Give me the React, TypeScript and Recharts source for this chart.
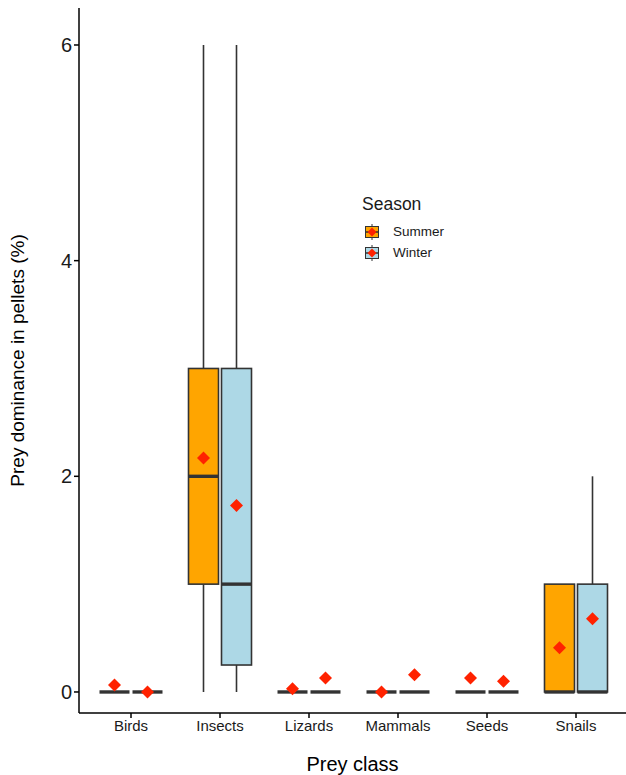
import { ComposedChart, Bar, XAxis, YAxis, Legend } from "recharts"

// prey classes on the x axis
const categories = ["Birds", "Insects", "Lizards", "Mammals", "Seeds", "Snails"]

// summer box stats
const summerMin = [0, 0, 0, 0, 0, 0]
const summerQ1 = [0, 1, 0, 0, 0, 0]
const summerMedian = [0, 2, 0, 0, 0, 0]
const summerQ3 = [0, 3, 0, 0, 0, 1]
const summerMax = [0, 6, 0, 0, 0, 1]
const summerMean = [0.065, 2.17, 0.03, 0, 0.13, 0.41]

// winter box stats
const winterMin = [0, 0, 0, 0, 0, 0]
const winterQ1 = [0, 0.25, 0, 0, 0, 0]
const winterMedian = [0, 1, 0, 0, 0, 0]
const winterQ3 = [0, 3, 0, 0, 0, 1]
const winterMax = [0, 6, 0, 0, 0, 2]
const winterMean = [0, 1.73, 0.13, 0.16, 0.1, 0.68]

const yTicks = [0, 2, 4, 6]
const Y_DOMAIN: [number, number] = [-0.195, 6.343]

const SUMMER = "#FFA500"
const WINTER = "#ADD8E6"
const LINE = "#333333"
const MEAN = "#FF2200"
const FONT = "Liberation Sans, Arial, sans-serif"

const data = categories.map((c, i) => ({
    name: c,
    summer: { min: summerMin[i], q1: summerQ1[i], median: summerMedian[i], q3: summerQ3[i], max: summerMax[i], mean: summerMean[i] },
    winter: { min: winterMin[i], q1: winterQ1[i], median: winterMedian[i], q3: winterQ3[i], max: winterMax[i], mean: winterMean[i] },
}))

// the bar spans the whole y domain, so its rect tells us where values land
const makeBox = (key: "summer" | "winter", fill: string) => (props: any) => {
    const { x, y, width, height, payload } = props
    const s = payload[key]
    const toPx = (v: number) => y + ((Y_DOMAIN[1] - v) / (Y_DOMAIN[1] - Y_DOMAIN[0])) * height
    const cx = x + width / 2
    const d = 6.5
    const my = toPx(s.mean)
    return (
        <g>
            <line x1={cx} x2={cx} y1={toPx(s.max)} y2={toPx(s.q3)} stroke={LINE} strokeWidth={1.6} />
            <line x1={cx} x2={cx} y1={toPx(s.q1)} y2={toPx(s.min)} stroke={LINE} strokeWidth={1.6} />
            <rect
                x={x}
                y={toPx(s.q3)}
                width={width}
                height={Math.max(toPx(s.q1) - toPx(s.q3), 0)}
                fill={fill}
                stroke={LINE}
                strokeWidth={1.6}
            />
            <line x1={x} x2={x + width} y1={toPx(s.median)} y2={toPx(s.median)} stroke={LINE} strokeWidth={3.4} />
            <polygon points={`${cx},${my - d} ${cx + d},${my} ${cx},${my + d} ${cx - d},${my}`} fill={MEAN} />
        </g>
    )
}

const LegendKey = ({ fill }: { fill: string }) => (
    <svg width={16} height={16} style={{ display: "block" }}>
        <line x1={8} x2={8} y1={0} y2={16} stroke={LINE} strokeWidth={1} />
        <rect x={1.5} y={2.5} width={13} height={11} fill={fill} stroke={LINE} strokeWidth={1} />
        <line x1={1.5} x2={14.5} y1={8} y2={8} stroke={LINE} strokeWidth={1.5} />
        <polygon points="8,3.5 12.5,8 8,12.5 3.5,8" fill={MEAN} />
    </svg>
)

const SeasonLegend = () => (
    <div style={{ fontFamily: FONT, color: "#1a1a1a" }}>
        <div style={{ fontSize: 17.5, marginBottom: 6 }}>Season</div>
        {[
            { label: "Summer", fill: SUMMER },
            { label: "Winter", fill: WINTER },
        ].map((k) => (
            <div key={k.label} style={{ display: "flex", alignItems: "center", height: 21, marginLeft: 2 }}>
                <LegendKey fill={k.fill} />
                <span style={{ fontSize: 13.5, marginLeft: 13 }}>{k.label}</span>
            </div>
        ))}
    </div>
)

export default function App() {
    return (
        <div style={{ position: "absolute", left: 0, top: 0, background: "#fff" }}>
            <ComposedChart
                width={626}
                height={775}
                data={data}
                margin={{ top: 8, right: 0, bottom: 0, left: 0 }}
                barGap={3}
                barSize={30}
            >
                <XAxis
                    dataKey="name"
                    height={62}
                    padding={{ left: 7.5, right: 5.5 }}
                    axisLine={{ stroke: "#000", strokeWidth: 1.5 }}
                    tickLine={{ stroke: "#000", strokeWidth: 1.5 }}
                    tickSize={5}
                    tick={{ fill: "#1a1a1a", fontSize: 15, fontFamily: FONT }}
                    label={{
                        value: "Prey class",
                        position: "insideBottom",
                        offset: 4,
                        fill: "#000",
                        fontSize: 20,
                        fontFamily: FONT,
                    }}
                />
                <YAxis
                    type="number"
                    domain={Y_DOMAIN}
                    ticks={yTicks}
                    allowDataOverflow
                    width={79}
                    axisLine={{ stroke: "#000", strokeWidth: 1.5 }}
                    tickLine={{ stroke: "#000", strokeWidth: 1.5 }}
                    tickSize={5}
                    tick={{ fill: "#1a1a1a", fontSize: 20, fontFamily: FONT }}
                    label={{
                        value: "Prey dominance in pellets (%)",
                        angle: -90,
                        position: "insideLeft",
                        offset: 17,
                        style: { textAnchor: "middle" },
                        fill: "#000",
                        fontSize: 19,
                        fontFamily: FONT,
                    }}
                />
                <Legend
                    content={<SeasonLegend />}
                    layout="horizontal"
                    verticalAlign="middle"
                    align="center"
                    wrapperStyle={{ left: 362, top: 194, width: 120 }}
                />
                <Bar dataKey={() => Y_DOMAIN} shape={makeBox("summer", SUMMER)} isAnimationActive={false} legendType="none" />
                <Bar dataKey={() => Y_DOMAIN} shape={makeBox("winter", WINTER)} isAnimationActive={false} legendType="none" />
            </ComposedChart>
        </div>
    )
}
